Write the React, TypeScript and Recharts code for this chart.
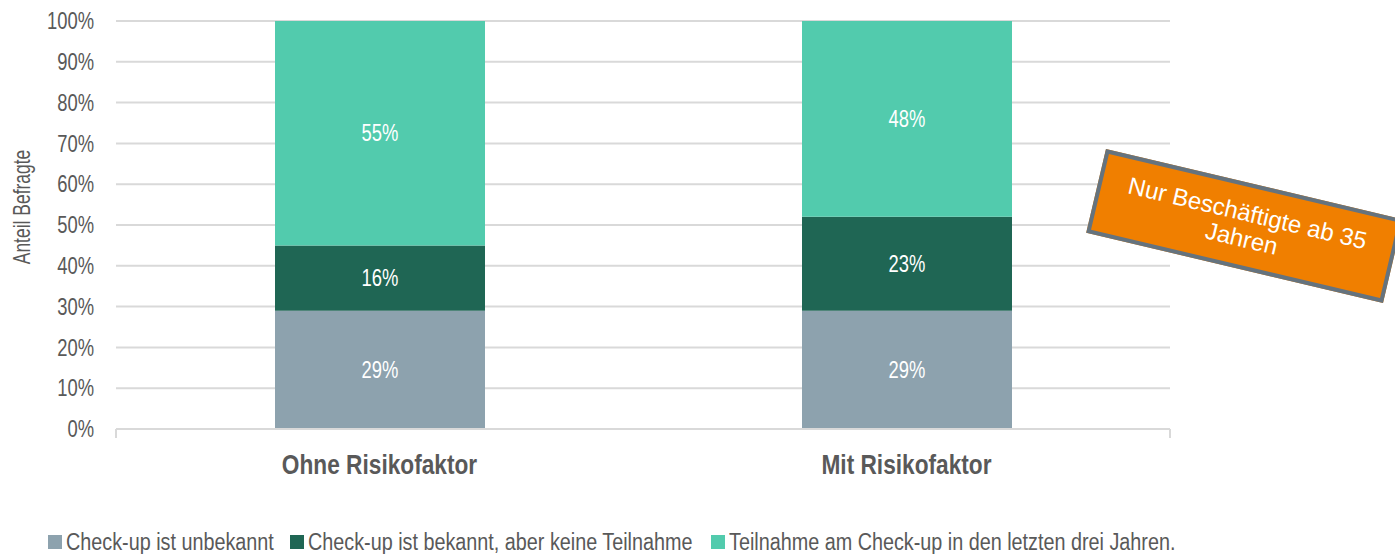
import React from "react";
import { BarChart, Bar, XAxis, YAxis, CartesianGrid, Legend, LabelList } from "recharts";

const categories = ["Ohne Risikofaktor", "Mit Risikofaktor"];
const unbekannt = [29, 29];
const bekanntKeine = [16, 23];
const teilnahme = [55, 48];
const yTicks = [0, 10, 20, 30, 40, 50, 60, 70, 80, 90, 100];
const edgeTicks = [0, 1, 2];
const seriesNames = [
  "Check-up ist unbekannt",
  "Check-up ist bekannt, aber keine Teilnahme",
  "Teilnahme am Check-up in den letzten drei Jahren.",
];
const colors = ["#8DA2AE", "#1F6654", "#52CBAD"];

const data = categories.map((c, i) => ({
  name: c,
  a: unbekannt[i],
  b: bekanntKeine[i],
  c: teilnahme[i],
}));

const FONT = "'Liberation Sans', Arial, sans-serif";
const TEXT = "#595959";
const SX = 0.8;

const squeeze = (x: number, y: number, s = SX) =>
  `translate(${x} ${y}) scale(${s} 1) translate(${-x} ${-y})`;

const YTick = (props: any) => {
  const { y, payload } = props;
  const x = 94;
  return (
    <text x={x} y={y} transform={squeeze(x, y)} textAnchor="end" dominantBaseline="central" fill={TEXT} fontSize={23} fontFamily={FONT}>
      {`${payload.value}%`}
    </text>
  );
};

const CatTick = (props: any) => {
  const { x, y, payload } = props;
  const ty = y + 19;
  return (
    <text x={x} y={ty} transform={squeeze(x, ty, 0.84)} textAnchor="middle" dominantBaseline="central" fill={TEXT} fontSize={27} fontWeight="bold" fontFamily={FONT}>
      {payload.value}
    </text>
  );
};

const EmptyTick = () => <g />;

const BarLabel = (props: any) => {
  const { x, y, width, height, value } = props;
  const cx = x + width / 2;
  const cy = y + height / 2;
  return (
    <text x={cx} y={cy} transform={squeeze(cx, cy)} textAnchor="middle" dominantBaseline="central" fill="#FFFFFF" fontSize={23} fontFamily={FONT}>
      {`${value}%`}
    </text>
  );
};

const YLabel = (props: any) => {
  const { viewBox } = props;
  const cx = 22;
  const cy = viewBox.y + viewBox.height / 2 - 18;
  return (
    <text
      x={cx}
      y={cy}
      transform={`rotate(-90 ${cx} ${cy}) ${squeeze(cx, cy, 0.76)}`}
      textAnchor="middle"
      dominantBaseline="central"
      fill={TEXT}
      fontSize={23}
      fontFamily={FONT}
    >
      Anteil Befragte
    </text>
  );
};

const legendLefts = [48, 290, 711];

const renderLegend = () => (
  <div style={{ position: "relative", height: 24, width: 1395, fontFamily: FONT, fontSize: 23, color: TEXT, whiteSpace: "nowrap" }}>
    {seriesNames.map((n, i) => (
      <div key={n} style={{ position: "absolute", left: legendLefts[i], top: 0, height: 24, display: "flex", alignItems: "center" }}>
        <span style={{ width: 14, height: 14, background: colors[i], display: "inline-block", marginRight: 4 }} />
        <span style={{ display: "inline-block", transform: `scaleX(0.86)`, transformOrigin: "left center", lineHeight: "24px" }}>{n}</span>
      </div>
    ))}
  </div>
);

export default function App() {
  const keys = ["a", "b", "c"];
  return (
    <div style={{ position: "absolute", left: 0, top: 0, width: 1395, height: 554, background: "#fff", overflow: "hidden" }}>
      <BarChart
        width={1395}
        height={554}
        data={data}
        margin={{ top: 21, right: 225, bottom: 51, left: 0 }}
        style={{ fontFamily: FONT }}
      >
        <CartesianGrid vertical={false} stroke="#D9D9D9" strokeWidth={2} />
        <YAxis
          width={116}
          domain={[0, 100]}
          ticks={yTicks}
          axisLine={false}
          tickLine={false}
          tick={<YTick />}
          label={<YLabel />}
        />
        <XAxis
          xAxisId="catAxis"
          dataKey="name"
          axisLine={false}
          tickLine={false}
          height={42}
          tick={<CatTick />}
        />
        <XAxis
          xAxisId="axisEdge"
          type="number"
          domain={[0, 2]}
          ticks={edgeTicks}
          tick={<EmptyTick />}
          tickSize={9}
          height={8}
          axisLine={{ stroke: "#D9D9D9", strokeWidth: 2 }}
          tickLine={{ stroke: "#D9D9D9", strokeWidth: 2 }}
        />
        <Legend
          content={renderLegend}
          wrapperStyle={{ position: "absolute", left: 0, top: 530, width: 1395, height: 24 }}
        />
        {keys.map((k, i) => (
          <Bar
            key={k}
            xAxisId="catAxis"
            dataKey={k}
            name={seriesNames[i]}
            stackId="s"
            fill={colors[i]}
            barSize={210}
            isAnimationActive={false}
          >
            <LabelList dataKey={k} content={<BarLabel />} />
          </Bar>
        ))}
      </BarChart>
      <div
        style={{
          position: "absolute",
          left: 1092,
          top: 183,
          width: 297,
          height: 78,
          background: "#F07F00",
          border: "4px solid #65737E",
          transform: "rotate(13.3deg)",
          color: "#fff",
          fontFamily: FONT,
          fontSize: 24,
          lineHeight: "26px",
          display: "flex",
          alignItems: "center",
          justifyContent: "center",
          textAlign: "center",
        }}
      >
        Nur Beschäftigte ab 35
        <br />
        Jahren
      </div>
    </div>
  );
}
